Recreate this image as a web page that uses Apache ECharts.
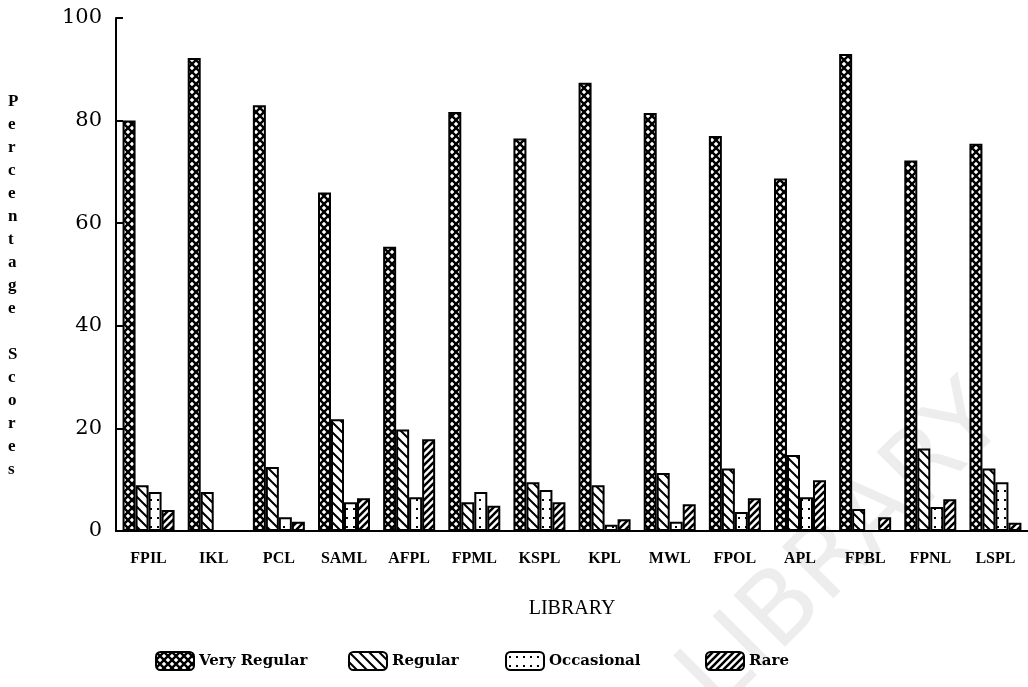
<!DOCTYPE html>
<html><head><meta charset="utf-8">
<script src="https://cdn.jsdelivr.net/npm/echarts@6/dist/echarts.min.js"></script>
<style>html,body{margin:0;padding:0;background:#fff}#c{width:1028px;height:687px}</style>
</head><body><div id="c"></div>
<script>
const categories = ['FPIL','IKL','PCL','SAML','AFPL','FPML','KSPL','KPL','MWL','FPOL','APL','FPBL','FPNL','LSPL'];
const veryRegular = [80, 92.2, 83, 66, 55.4, 81.7, 76.5, 87.4, 81.5, 77, 68.7, 93, 72.2, 75.5];
const regular     = [8.9, 7.6, 12.5, 21.8, 19.8, 5.6, 9.5, 8.9, 11.3, 12.2, 14.8, 4.3, 16.1, 12.2];
const occasional  = [7.6, 0, 2.7, 5.6, 6.6, 7.6, 8.0, 1.2, 1.8, 3.7, 6.6, 0, 4.7, 9.5];
const rare        = [4.1, 0, 1.8, 6.4, 17.9, 4.9, 5.6, 2.3, 5.2, 6.4, 9.9, 2.7, 6.2, 1.6];
const seriesNames = ['Very Regular','Regular','Occasional','Rare'];
const yAxisTitle = 'Percentage Scores';
const xAxisTitle = 'LIBRARY';

function makePattern(kind){
  const c = document.createElement('canvas');
  let w = 8, h = 8;
  if (kind === 'back') { w = 10; h = 10; }
  if (kind === 'fwd') { w = 7; h = 7; }
  if (kind === 'dots') { w = 7; h = 9; }
  c.width = w; c.height = h;
  const g = c.getContext('2d');
  g.fillStyle = '#fff'; g.fillRect(0,0,w,h);
  g.strokeStyle = '#000'; g.fillStyle = '#000';
  if (kind === 'cross') {
    g.lineWidth = 2.4;
    g.beginPath();
    g.moveTo(-1,-1); g.lineTo(w+1,h+1);
    g.moveTo(w+1,-1); g.lineTo(-1,h+1);
    g.stroke();
  } else if (kind === 'back') {
    g.lineWidth = 2;
    g.beginPath();
    for (let k=-1;k<=1;k++){ g.moveTo(k*w-1,-1); g.lineTo(k*w+w+1,h+1); }
    g.stroke();
  } else if (kind === 'fwd') {
    g.lineWidth = 2.6;
    g.beginPath();
    for (let k=-1;k<=1;k++){ g.moveTo(k*w-1,h+1); g.lineTo(k*w+w+1,-1); }
    g.stroke();
  } else if (kind === 'dots') {
    g.fillRect(3,4,2,2);
  }
  return c;
}
const patterns = ['cross','back','dots','fwd'].map(k => ({image: makePattern(k), repeat: 'repeat'}));
const values = [veryRegular, regular, occasional, rare];
const legendLefts = [150, 343, 500, 700];

const chart = echarts.init(document.getElementById('c'), null, {renderer: 'canvas'});
const serif = 'Liberation Serif';
chart.setOption({
  backgroundColor: '#fff',
  animation: false,
  grid: {left: 116, right: 0, top: 18, bottom: 156, containLabel: false},
  legend: seriesNames.map((n, i) => ({
    data: [n],
    top: 646, left: legendLefts[i],
    itemWidth: 38, itemHeight: 18,
    textStyle: {fontFamily: 'DejaVu Serif', fontWeight: 'bold', fontSize: 15, color: '#000'},
    itemStyle: {borderColor: '#000', borderWidth: 2}
  })),
  xAxis: {
    type: 'category', data: categories,
    name: xAxisTitle, nameLocation: 'middle', nameGap: 68,
    nameTextStyle: {fontFamily: serif, fontSize: 20, color: '#000'},
    axisLine: {lineStyle: {color: '#000', width: 2}},
    axisTick: {alignWithLabel: true, length: 8, lineStyle: {color: '#000', width: 2}},
    axisLabel: {fontFamily: serif, fontWeight: 'bold', fontSize: 16, color: '#000', margin: 20, interval: 0}
  },
  yAxis: {
    type: 'value', min: 0, max: 100, interval: 20,
    axisLine: {show: true, lineStyle: {color: '#000', width: 2}},
    axisTick: {show: true, inside: true, length: 7, lineStyle: {color: '#000', width: 2}},
    splitLine: {show: false},
    axisLabel: {fontFamily: 'DejaVu Serif', fontSize: 21, color: '#000', margin: 14}
  },
  graphic: [
    {type: 'text', left: 8, top: 90, z: 10,
     style: {text: yAxisTitle.split('').join('\n'), fontFamily: serif, fontWeight: 'bold', fontSize: 17, lineHeight: 23, fill: '#000', align: 'center'}},
    {type: 'text', z: -10, x: 845, y: 550, rotation: Math.PI/4, silent: true,
     style: {text: 'LIBRARY', fontFamily: 'DejaVu Sans', fontSize: 100, fill: '#ededed', align: 'center', verticalAlign: 'middle'}}
  ],
  series: seriesNames.map((n, i) => ({
    name: n, type: 'bar', data: values[i],
    barWidth: 13, barGap: '0%',
    itemStyle: {color: patterns[i], borderColor: '#000', borderWidth: 2},
    z: 2
  }))
});
</script></body></html>
